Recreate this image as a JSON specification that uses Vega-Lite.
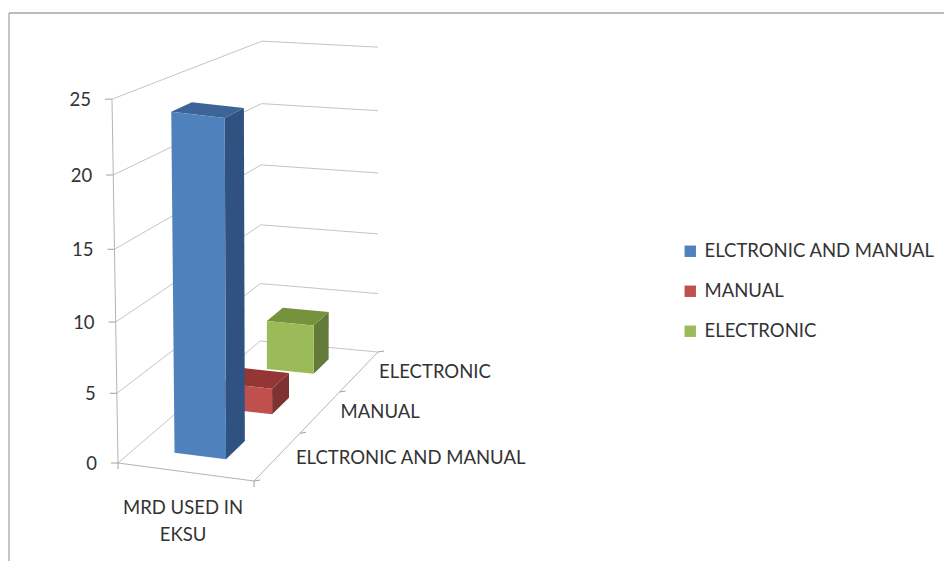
{
"$schema":"https://vega.github.io/schema/vega-lite/v6.json",
"width":944,"height":561,"autosize":"none","padding":0,"background":"white",
"config":{"view":{"stroke":null}},
"datasets":{
"bars":[{"series":"ELECTRONIC","value":4},{"series":"MANUAL","value":2},{"series":"ELCTRONIC AND MANUAL","value":24}],
"ticks":[{"v":0},{"v":5},{"v":10},{"v":15},{"v":20},{"v":25}],
"edges":[{"edge":"floor"},{"edge":"axis"}],
"catTicks":[{"axis":"x","i":0},{"axis":"x","i":1},{"axis":"depth","i":0},{"axis":"depth","i":1},{"axis":"depth","i":2},{"axis":"depth","i":3}],
"category":[{"label":"MRD USED IN\nEKSU"}],
"frame":[{"side":"top"}]
},
"layer":[
{"data":{"name":"frame"},
 "mark":{"type":"rule","stroke":"#a6a6a6","strokeWidth":1.3},
 "encoding":{"x":{"value":9},"x2":{"value":944},"y":{"value":13}}},
{"data":{"name":"frame"},
 "mark":{"type":"rule","stroke":"#a6a6a6","strokeWidth":1.3},
 "encoding":{"x":{"value":9},"y":{"value":13},"y2":{"value":561}}},
{"data":{"name":"ticks"},
 "transform":[
  {"calculate":"[{p:0,u:0,d:0},{p:1,u:0,d:1},{p:2,u:1,d:1}]","as":"pts"},{"flatten":["pts"]},
  {"calculate":"datum.pts.u","as":"u"},{"calculate":"datum.pts.d","as":"d"},{"calculate":"datum.v","as":"h"},
  {"calculate":"118+136*datum.u+142*datum.d-18*datum.u*datum.d+(-0.24+0.32*datum.d+0.26*datum.u-0.34*datum.u*datum.d)*datum.h","as":"px"},
  {"calculate":"463+18*datum.u-122*datum.d-7*datum.u*datum.d-(14.56-2.56*datum.d+0.2*datum.u*datum.d)*datum.h*(0.947+0.0021*datum.h)","as":"py"}],
 "mark":{"type":"line","stroke":"#c4c4c4","strokeWidth":1,"interpolate":"linear"},
 "encoding":{
  "x":{"field":"px","type":"quantitative","scale":{"domain":[0,944],"nice":false,"zero":false},"axis":null},
  "y":{"field":"py","type":"quantitative","scale":{"domain":[0,561],"range":[0,561],"nice":false,"zero":false},"axis":null},
  "detail":{"field":"v"},"order":{"field":"pts.p"}}},
{"data":{"name":"edges"},
 "transform":[
  {"calculate":"datum.edge==='floor'?[{p:0,u:0,d:0,h:0},{p:1,u:1,d:0,h:0},{p:2,u:1,d:1,h:0}]:[{p:0,u:0,d:0,h:0},{p:1,u:0,d:0,h:25}]","as":"pts"},{"flatten":["pts"]},
  {"calculate":"datum.pts.u","as":"u"},{"calculate":"datum.pts.d","as":"d"},{"calculate":"datum.pts.h","as":"h"},
  {"calculate":"118+136*datum.u+142*datum.d-18*datum.u*datum.d+(-0.24+0.32*datum.d+0.26*datum.u-0.34*datum.u*datum.d)*datum.h","as":"px"},
  {"calculate":"463+18*datum.u-122*datum.d-7*datum.u*datum.d-(14.56-2.56*datum.d+0.2*datum.u*datum.d)*datum.h*(0.947+0.0021*datum.h)","as":"py"}],
 "mark":{"type":"line","stroke":"#b4b4b4","strokeWidth":1},
 "encoding":{
  "x":{"field":"px","type":"quantitative"},
  "y":{"field":"py","type":"quantitative"},
  "detail":{"field":"edge"},"order":{"field":"pts.p"}}},
{"data":{"name":"ticks"},
 "transform":[
  {"calculate":"118+(-0.24)*datum.v","as":"px"},
  {"calculate":"463-14.56*datum.v*(0.947+0.0021*datum.v)","as":"py"},
  {"calculate":"datum.px-7","as":"px2"}],
 "mark":{"type":"rule","stroke":"#a0a0a0","strokeWidth":1},
 "encoding":{
  "x":{"field":"px","type":"quantitative"},"x2":{"field":"px2"},
  "y":{"field":"py","type":"quantitative"}}},
{"data":{"name":"catTicks"},
 "transform":[
  {"calculate":"datum.axis==='x'?datum.i:1","as":"u"},
  {"calculate":"datum.axis==='x'?0:[0,0.37,0.69,1][datum.i]","as":"d"},
  {"calculate":"118+136*datum.u+142*datum.d-18*datum.u*datum.d","as":"px"},
  {"calculate":"463+18*datum.u-122*datum.d-7*datum.u*datum.d","as":"py"},
  {"calculate":"datum.axis==='x'?datum.px:datum.px+6","as":"px2"},
  {"calculate":"datum.axis==='x'?datum.py+6:datum.py-1","as":"py2"}],
 "mark":{"type":"rule","stroke":"#a0a0a0","strokeWidth":1},
 "encoding":{
  "x":{"field":"px","type":"quantitative"},"x2":{"field":"px2"},
  "y":{"field":"py","type":"quantitative"},"y2":{"field":"py2"}}},
{"data":{"name":"bars"},
 "transform":[
  {"calculate":"indexof(['ELCTRONIC AND MANUAL','MANUAL','ELECTRONIC'],datum.series)","as":"slot"},
  {"calculate":"[0.125,0.48,0.80][datum.slot]","as":"d0"},
  {"calculate":"[0.27,0.61,0.915][datum.slot]","as":"d1"},
  {"calculate":"[{f:'side',k:0,a:1,b:0,c:0},{f:'side',k:1,a:1,b:1,c:0},{f:'side',k:2,a:1,b:1,c:1},{f:'side',k:3,a:1,b:0,c:1},{f:'top',k:0,a:0,b:0,c:1},{f:'top',k:1,a:1,b:0,c:1},{f:'top',k:2,a:1,b:1,c:1},{f:'top',k:3,a:0,b:1,c:1},{f:'front',k:0,a:0,b:0,c:0},{f:'front',k:1,a:1,b:0,c:0},{f:'front',k:2,a:1,b:0,c:1},{f:'front',k:3,a:0,b:0,c:1}]","as":"verts"},
  {"flatten":["verts"]},
  {"calculate":"datum.verts.a?0.675:0.29","as":"u"},
  {"calculate":"datum.verts.b?datum.d1:datum.d0","as":"d"},
  {"calculate":"datum.verts.c?datum.value:0","as":"h"},
  {"calculate":"datum.verts.k","as":"k"},
  {"calculate":"datum.series+'|'+datum.verts.f","as":"key"},
  {"calculate":"118+136*datum.u+142*datum.d-18*datum.u*datum.d+(-0.24+0.32*datum.d+0.26*datum.u-0.34*datum.u*datum.d)*datum.h","as":"px"},
  {"calculate":"463+18*datum.u-122*datum.d-7*datum.u*datum.d-(14.56-2.56*datum.d+0.2*datum.u*datum.d)*datum.h*(0.947+0.0021*datum.h)","as":"py"}],
 "mark":{"type":"line","stroke":null,"interpolate":"linear-closed"},
 "encoding":{
  "x":{"field":"px","type":"quantitative"},
  "y":{"field":"py","type":"quantitative"},
  "order":{"field":"k"},
  "fill":{"field":"key","type":"nominal",
   "scale":{"domain":["ELCTRONIC AND MANUAL|front","MANUAL|front","ELECTRONIC|front","ELCTRONIC AND MANUAL|side","MANUAL|side","ELECTRONIC|side","ELCTRONIC AND MANUAL|top","MANUAL|top","ELECTRONIC|top"],
    "range":["#4f81bd","#c0504d","#9bbb59","#2f5280","#7d3331","#637a39","#3c6496","#943634","#76923c"]},
   "legend":{"title":null,"orient":"none","legendX":681,"legendY":242,"values":["ELCTRONIC AND MANUAL|front","MANUAL|front","ELECTRONIC|front"],
    "labelExpr":"split(datum.label,'|')[0]","symbolType":"square","symbolSize":130,"symbolStrokeWidth":0,
    "labelFont":"Lato","labelFontSize":18.5,"labelColor":"#333333","labelLimit":300,"rowPadding":21,"labelOffset":5}}}},
{"data":{"name":"ticks"},
 "transform":[
  {"calculate":"118+(-0.24)*datum.v","as":"px"},
  {"calculate":"463-14.56*datum.v*(0.947+0.0021*datum.v)","as":"py"}],
 "mark":{"type":"text","align":"right","baseline":"middle","dx":-21,"dy":1,"font":"Lato","fontSize":18.5,"color":"#333333"},
 "encoding":{
  "x":{"field":"px","type":"quantitative"},
  "y":{"field":"py","type":"quantitative"},
  "text":{"field":"v","type":"quantitative"}}},
{"data":{"name":"bars"},
 "transform":[
  {"calculate":"[0.185,0.545,0.855][indexof(['ELCTRONIC AND MANUAL','MANUAL','ELECTRONIC'],datum.series)]","as":"d"},
  {"calculate":"254+124*datum.d","as":"px"},
  {"calculate":"481-129*datum.d","as":"py"}],
 "mark":{"type":"text","align":"left","baseline":"middle","dx":19,"dy":1,"font":"Lato","fontSize":18.5,"color":"#333333"},
 "encoding":{
  "x":{"field":"px","type":"quantitative"},
  "y":{"field":"py","type":"quantitative"},
  "text":{"field":"series","type":"nominal"}}},
{"data":{"name":"category"},
 "transform":[
  {"calculate":"186","as":"px"},
  {"calculate":"472","as":"py"}],
 "mark":{"type":"text","align":"center","baseline":"top","dx":-3,"dy":27,"font":"Lato","fontSize":18.5,"color":"#333333","lineBreak":"\n","lineHeight":27},
 "encoding":{
  "x":{"field":"px","type":"quantitative"},
  "y":{"field":"py","type":"quantitative"},
  "text":{"field":"label","type":"nominal"}}}
]
}
